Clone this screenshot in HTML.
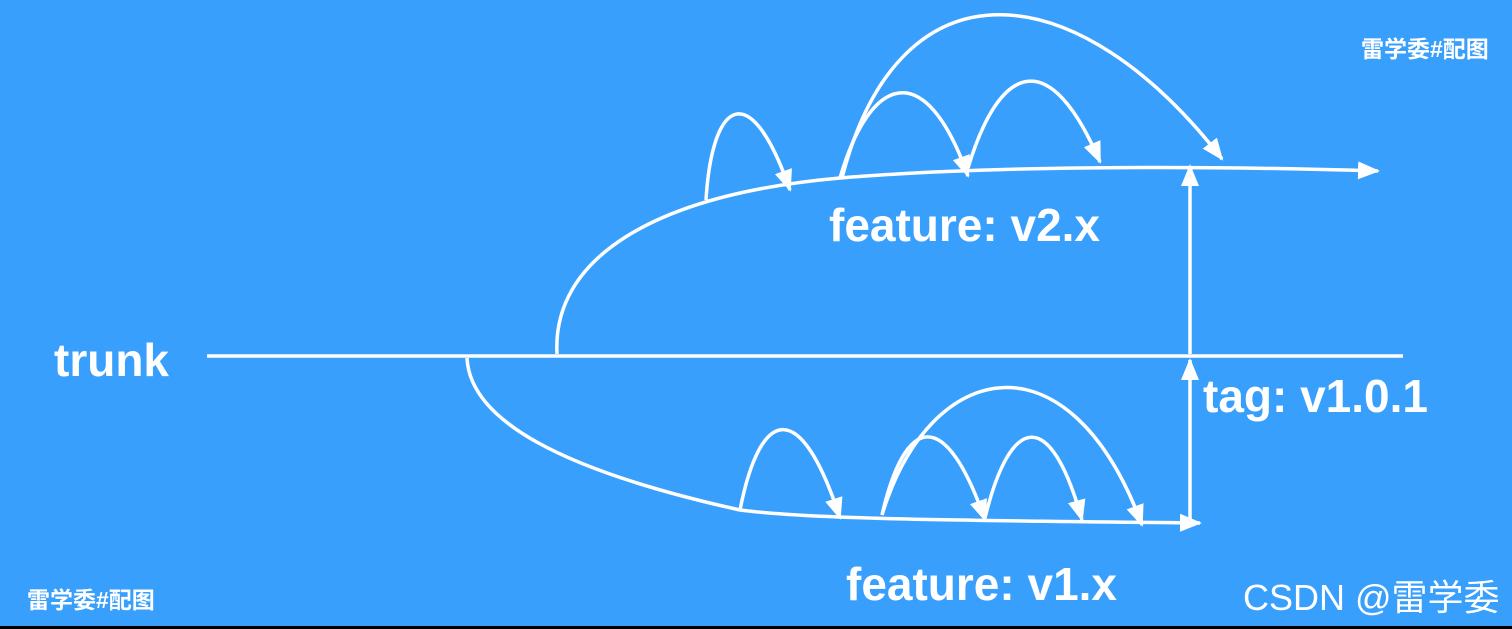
<!DOCTYPE html>
<html><head><meta charset="utf-8"><style>
html,body{margin:0;padding:0;}
body{width:1512px;height:629px;background:#399ffd;position:relative;overflow:hidden;font-family:"Liberation Sans","Noto Sans CJK SC",sans-serif;color:#fff;}
.t{position:absolute;font-weight:bold;white-space:nowrap;line-height:1;}
</style></head><body>
<svg width="1512" height="629" style="position:absolute;left:0;top:0">
<defs>
<marker id="b" markerWidth="22" markerHeight="22" refX="20" refY="11" orient="auto" markerUnits="userSpaceOnUse" viewBox="0 0 22 22"><path d="M0,2 L22,11 L0,20 z" fill="#fff"/></marker></defs>
<g stroke="#fff" stroke-width="3.5" fill="none">
<line x1="207" y1="356" x2="1403" y2="356"/>
<path d="M557,354 C552,260 650,195 840,178 C960,168 1150,164 1378,171" marker-end="url(#b)"/>
<path d="M467,358 C470,420 560,470 740,510 C800,518 900,520 1200,523" marker-end="url(#b)"/>
<line x1="1190" y1="354" x2="1190" y2="166" marker-end="url(#b)"/>
<line x1="1190" y1="520" x2="1190" y2="360" marker-end="url(#b)"/>
<path d="M706,200 C712,100 750,75 790,190" marker-end="url(#b)"/>
<path d="M840,178 C870,75 925,55 968,176" marker-end="url(#b)"/>
<path d="M842,178 C900,-48 1080,-25 1222,159" marker-end="url(#b)"/>
<path d="M968,168 C1000,62 1050,45 1100,162" marker-end="url(#b)"/>
<path d="M740,510 C760,408 800,395 840,518" marker-end="url(#b)"/>
<path d="M882,515 C905,415 945,405 985,520" marker-end="url(#b)"/>
<path d="M882,515 C930,357 1070,330 1142,525" marker-end="url(#b)"/>
<path d="M985,518 C1010,415 1050,405 1082,520" marker-end="url(#b)"/>
</g>
<rect x="0" y="626" width="1512" height="3" fill="#000"/>
</svg>
<div class="t" style="left:54px;top:337px;font-size:46px">trunk</div>
<div class="t" style="left:829px;top:202px;font-size:46px">feature: v2.x</div>
<div class="t" style="left:1203px;top:373px;font-size:46px">tag: v1.0.1</div>
<div class="t" style="left:846px;top:561px;font-size:46px">feature: v1.x</div>
<div class="t" style="left:1361px;top:38px;font-size:23px">雷学委#配图</div>
<div class="t" style="left:27px;top:589px;font-size:23px">雷学委#配图</div>
<div class="t" style="left:1243px;top:580px;font-size:36px;font-weight:normal">CSDN @雷学委</div>
</body></html>
